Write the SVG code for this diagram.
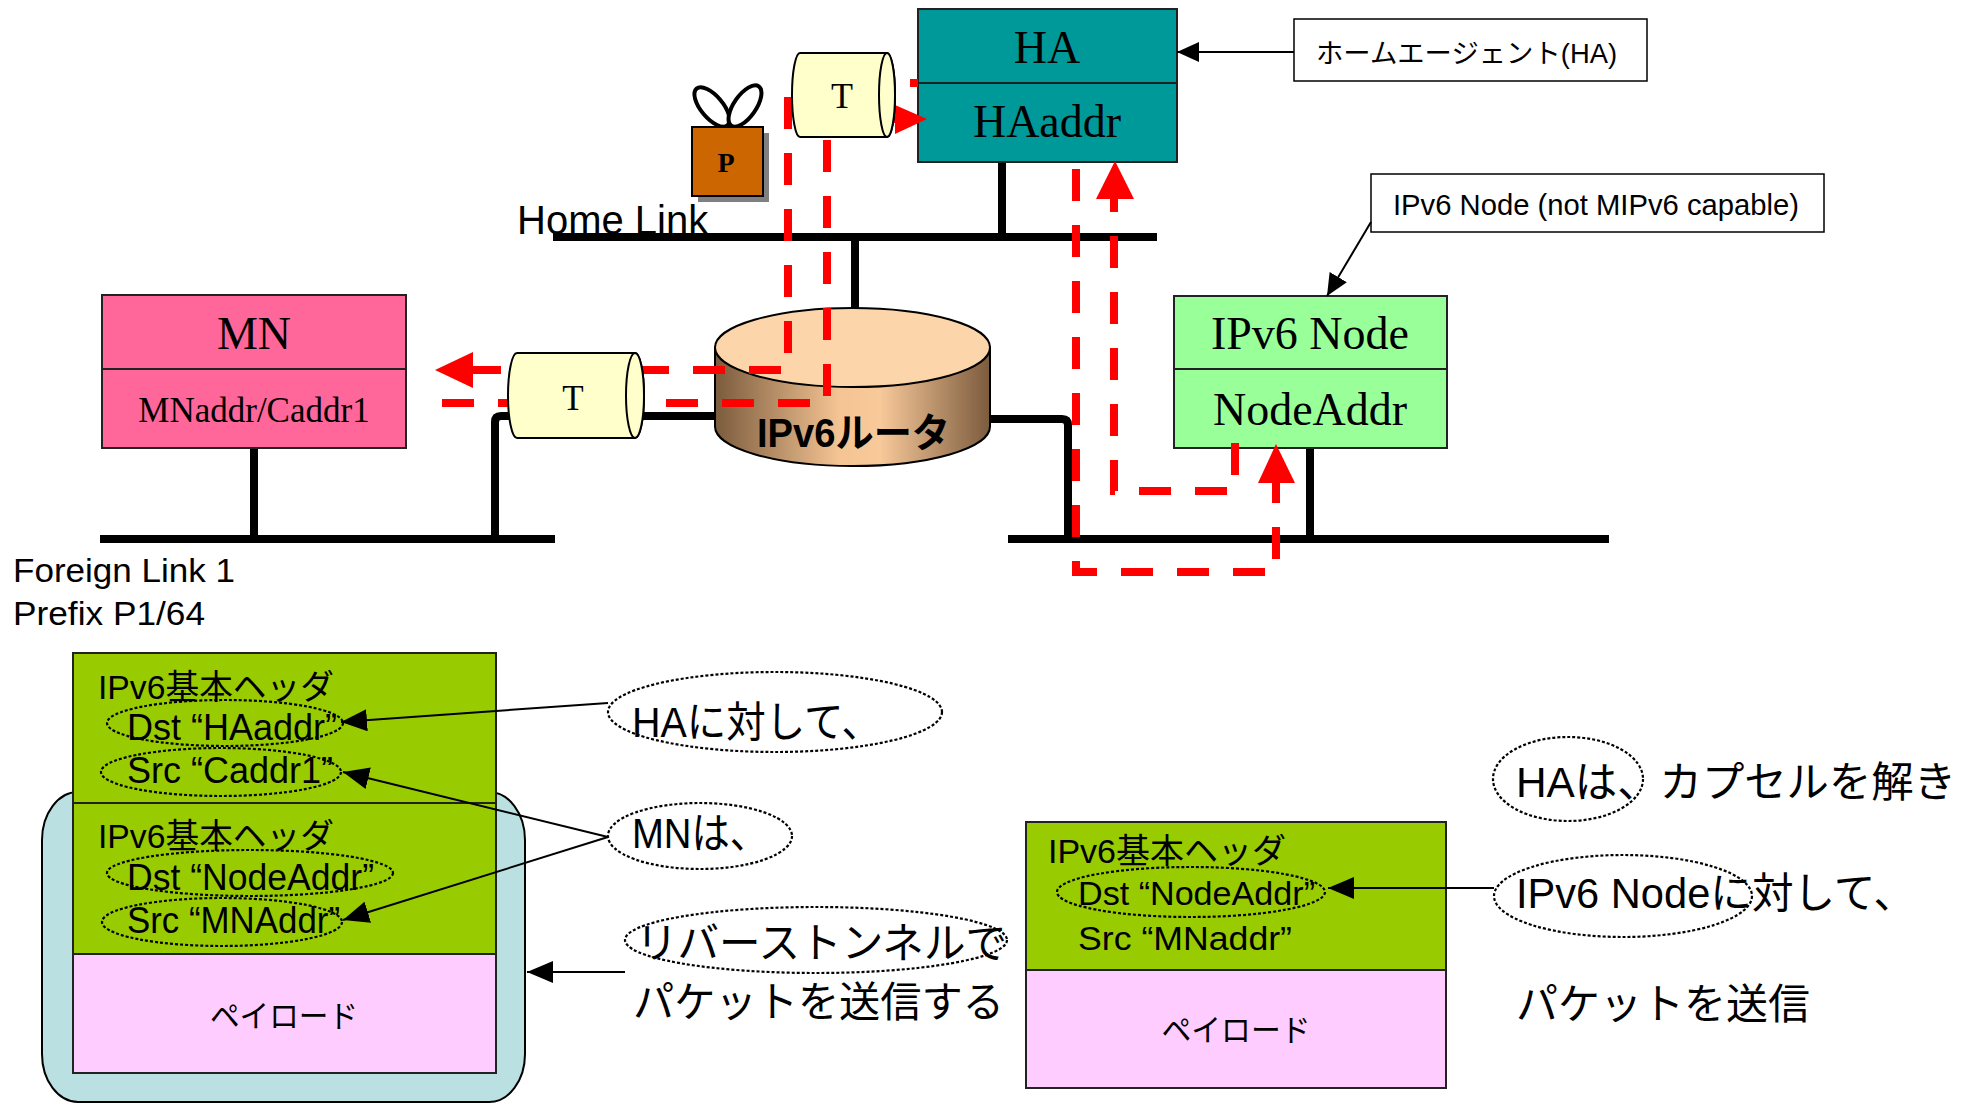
<svg xmlns="http://www.w3.org/2000/svg" width="1973" height="1103" viewBox="0 0 1973 1103">
  <defs>
    <style>
      .serif { font-family: "Liberation Serif", "Times New Roman", serif; fill: #000; }
      .sans { font-family: "Liberation Sans", Arial, "Noto Sans CJK JP", sans-serif; fill: #000; }
      .box { stroke: #222; stroke-width: 2; }
      .wire { fill: none; stroke: #000; stroke-width: 8; stroke-linejoin: round; }
      .flow { fill: none; stroke: #ff0000; stroke-width: 8; stroke-dasharray: 32 24; }
      .head { fill: #ff0000; }
      .thin { fill: none; stroke: #000; stroke-width: 2; }
      .dots { fill: none; stroke: #000; stroke-width: 2.2; stroke-dasharray: 3 2; }
      .tube { fill: #ffffcc; stroke: #000; stroke-width: 2; }
    </style>
    <linearGradient id="routerSide" x1="0" y1="0" x2="1" y2="0">
      <stop offset="0" stop-color="#7b5b3d"/>
      <stop offset="0.45" stop-color="#f4c493"/>
      <stop offset="0.6" stop-color="#f8c99a"/>
      <stop offset="1" stop-color="#7b5b3d"/>
    </linearGradient>
    <marker id="ah" viewBox="0 0 26 22" refX="26" refY="11" markerWidth="26" markerHeight="22" markerUnits="userSpaceOnUse" orient="auto">
      <path d="M0,0 L26,11 L0,22 Z" fill="#000"/>
    </marker>
    <marker id="ahs" viewBox="0 0 22 20" refX="22" refY="10" markerWidth="22" markerHeight="20" markerUnits="userSpaceOnUse" orient="auto">
      <path d="M0,0 L22,10 L0,20 Z" fill="#000"/>
    </marker>
  </defs>

  <rect x="0" y="0" width="1973" height="1103" fill="#fff"/>

  <!-- network links -->
  <g id="links">
    <line class="wire" x1="553" y1="237" x2="1157" y2="237" stroke-linecap="butt"/>
    <line class="wire" x1="100" y1="539" x2="555" y2="539" stroke-linecap="butt"/>
    <line class="wire" x1="1008" y1="539" x2="1609" y2="539" stroke-linecap="butt"/>
    <text class="sans" x="517" y="234" font-size="40">Home Link</text>
    <text class="sans" x="13" y="582" font-size="34" textLength="222" lengthAdjust="spacingAndGlyphs">Foreign Link 1</text>
    <text class="sans" x="13" y="625" font-size="34" textLength="192" lengthAdjust="spacingAndGlyphs">Prefix P1/64</text>
  </g>

  <!-- attachments to links -->
  <g id="drops">
    <path class="wire" d="M1002 162 V237"/>
    <path class="wire" d="M855 237 V330"/>
    <path class="wire" d="M254 448 V539"/>
    <path class="wire" d="M495 539 V422 Q495 416 501 416 H720"/>
    <path class="wire" d="M985 419 H1062 Q1068 419 1068 425 V539"/>
    <path class="wire" d="M1310 448 V539"/>
  </g>

  <!-- home agent -->
  <g id="ha">
    <rect class="box" x="918" y="9" width="259" height="153" fill="#009999"/>
    <line class="box" x1="918" y1="83" x2="1177" y2="83"/>
    <text class="serif" x="1047" y="63" font-size="46" text-anchor="middle">HA</text>
    <text class="serif" x="1047" y="137" font-size="46" text-anchor="middle">HAaddr</text>
  </g>

  <g id="ha-label">
    <rect x="1294" y="19" width="353" height="62" fill="#fff" stroke="#000" stroke-width="1.5"/>
    <text class="sans" x="1316" y="63" font-size="27" textLength="301" lengthAdjust="spacingAndGlyphs">ホームエージェント(HA)</text>
  </g>

  <!-- mobile node -->
  <g id="mn">
    <rect class="box" x="102" y="295" width="304" height="153" fill="#ff6699"/>
    <line class="box" x1="102" y1="369" x2="406" y2="369"/>
    <text class="serif" x="254" y="349" font-size="46" text-anchor="middle">MN</text>
    <text class="serif" x="254" y="422" font-size="35" text-anchor="middle">MNaddr/Caddr1</text>
  </g>

  <!-- correspondent node -->
  <g id="node">
    <rect class="box" x="1174" y="296" width="273" height="152" fill="#99ff99"/>
    <line class="box" x1="1174" y1="369" x2="1447" y2="369"/>
    <text class="serif" x="1310" y="349" font-size="46" text-anchor="middle">IPv6 Node</text>
    <text class="serif" x="1310" y="425" font-size="46" text-anchor="middle">NodeAddr</text>
  </g>

  <g id="node-label">
    <rect x="1371" y="174" width="453" height="58" fill="#fff" stroke="#000" stroke-width="1.5"/>
    <text class="sans" x="1393" y="215" font-size="29" textLength="406" lengthAdjust="spacingAndGlyphs">IPv6 Node (not MIPv6 capable)</text>
  </g>

  <!-- router -->
  <g id="router">
    <path d="M715 347.5 V426.5 A137.5 39.5 0 0 0 990 426.5 V347.5 Z" fill="url(#routerSide)" stroke="#000" stroke-width="2"/>
    <ellipse cx="852.5" cy="347.5" rx="137.5" ry="39.5" fill="#fdd5aa" stroke="#000" stroke-width="2"/>
    <text class="sans" x="757" y="447" font-size="40" font-weight="bold" textLength="193" lengthAdjust="spacingAndGlyphs">IPv6ルータ</text>
  </g>

  <!-- packet flows -->
  <g id="flows">
    <path class="flow" d="M918 83 H788 V370 H473" stroke-dashoffset="24"/>
    <polygon class="head" points="473,352 435,370 473,388"/>
    <path class="flow" d="M442 403 H827 V119 H895"/>
    <polygon class="head" points="895,105 927,119 895,134"/>
    <path class="flow" d="M1235 443 V491 H1114 V199"/>
    <polygon class="head" points="1096,199 1115,161 1134,199"/>
    <path class="flow" d="M1076 162 V572 H1276 V483" stroke-dashoffset="-7"/>
    <polygon class="head" points="1258,483 1276,444 1295,483"/>
  </g>

  <!-- tunnels -->
  <g id="tunnel-home">
    <path class="tube" d="M800 53 H887 A8 42 0 0 1 887 137 H800 A8 42 0 0 1 800 53 Z"/>
    <ellipse class="tube" cx="887" cy="95" rx="8" ry="42"/>
    <text class="serif" x="842" y="108" font-size="36" text-anchor="middle">T</text>
  </g>
  <g id="tunnel-foreign">
    <path class="tube" d="M517 353 H635 A9 42.5 0 0 1 635 438 H517 A9 42.5 0 0 1 517 353 Z"/>
    <ellipse class="tube" cx="635" cy="395.5" rx="9" ry="42.5"/>
    <text class="serif" x="573" y="410" font-size="35" text-anchor="middle">T</text>
  </g>

  <!-- packet icon -->
  <g id="packet-icon">
    <rect x="698" y="133" width="71" height="69" fill="#808080"/>
    <ellipse cx="712" cy="107" rx="24" ry="11" transform="rotate(50 712 107)" fill="#fff" stroke="#000" stroke-width="4"/>
    <ellipse cx="745" cy="106" rx="24" ry="11" transform="rotate(-55 745 106)" fill="#fff" stroke="#000" stroke-width="4"/>
    <rect x="692" y="127" width="71" height="69" fill="#cc6600" stroke="#000" stroke-width="2"/>
    <text class="serif" x="726" y="172" font-size="28" font-weight="bold" text-anchor="middle">P</text>
  </g>

  <!-- encapsulated packet -->
  <g id="encap-packet">
    <rect x="42" y="792" width="483" height="310" rx="36" ry="48" fill="#bbe0e2" stroke="#000" stroke-width="2"/>
    <rect class="box" x="73" y="653" width="423" height="150" fill="#99cc00"/>
    <rect class="box" x="73" y="803" width="423" height="151" fill="#99cc00"/>
    <rect class="box" x="73" y="954" width="423" height="119" fill="#ffccff" stroke-width="2.5"/>
    <text class="sans" x="98" y="699" font-size="34" textLength="236" lengthAdjust="spacingAndGlyphs">IPv6基本ヘッダ</text>
    <text class="sans" x="127" y="740" font-size="36" textLength="210" lengthAdjust="spacingAndGlyphs">Dst “HAaddr”</text>
    <text class="sans" x="127" y="783" font-size="36" textLength="206" lengthAdjust="spacingAndGlyphs">Src “Caddr1”</text>
    <text class="sans" x="98" y="848" font-size="34" textLength="236" lengthAdjust="spacingAndGlyphs">IPv6基本ヘッダ</text>
    <text class="sans" x="127" y="890" font-size="36" textLength="247" lengthAdjust="spacingAndGlyphs">Dst “NodeAddr”</text>
    <text class="sans" x="127" y="933" font-size="36" textLength="213" lengthAdjust="spacingAndGlyphs">Src “MNAddr”</text>
    <text class="sans" x="284" y="1027" font-size="31" text-anchor="middle" textLength="148" lengthAdjust="spacingAndGlyphs">ペイロード</text>
    <ellipse class="dots" cx="225" cy="723" rx="118" ry="23"/>
    <ellipse class="dots" cx="221" cy="772" rx="120" ry="24"/>
    <ellipse class="dots" cx="250" cy="873" rx="143" ry="23"/>
    <ellipse class="dots" cx="222" cy="922" rx="120" ry="24"/>
  </g>

  <!-- decapsulated packet -->
  <g id="plain-packet">
    <rect class="box" x="1026" y="822" width="420" height="148" fill="#99cc00"/>
    <rect class="box" x="1026" y="970" width="420" height="118" fill="#ffccff" stroke-width="2.5"/>
    <text class="sans" x="1048" y="863" font-size="34" textLength="238" lengthAdjust="spacingAndGlyphs">IPv6基本ヘッダ</text>
    <text class="sans" x="1078" y="905" font-size="34" textLength="237" lengthAdjust="spacingAndGlyphs">Dst “NodeAddr”</text>
    <text class="sans" x="1078" y="950" font-size="34" textLength="214" lengthAdjust="spacingAndGlyphs">Src “MNaddr”</text>
    <text class="sans" x="1236" y="1041" font-size="31" text-anchor="middle" textLength="149" lengthAdjust="spacingAndGlyphs">ペイロード</text>
    <ellipse class="dots" cx="1191" cy="892" rx="134" ry="25"/>
  </g>

  <!-- explanatory notes -->
  <g id="note-ha">
    <ellipse class="dots" cx="775" cy="712" rx="167" ry="40"/>
    <text class="sans" x="632" y="737" font-size="42" textLength="249" lengthAdjust="spacingAndGlyphs">HAに対して、</text>
  </g>
  <g id="note-mn">
    <ellipse class="dots" cx="700" cy="836" rx="92" ry="33"/>
    <text class="sans" x="632" y="848" font-size="42" textLength="136" lengthAdjust="spacingAndGlyphs">MNは、</text>
  </g>
  <g id="note-reverse">
    <ellipse class="dots" cx="816" cy="940" rx="191" ry="33"/>
    <text class="sans" x="636" y="958" font-size="42" textLength="371" lengthAdjust="spacingAndGlyphs">リバーストンネルで</text>
    <text class="sans" x="633" y="1017" font-size="42" textLength="371" lengthAdjust="spacingAndGlyphs">パケットを送信する</text>
  </g>
  <g id="note-decap">
    <ellipse class="dots" cx="1568" cy="779" rx="75" ry="42"/>
    <text class="sans" x="1516" y="797" font-size="42" textLength="440" lengthAdjust="spacingAndGlyphs">HAは、カプセルを解き</text>
  </g>
  <g id="note-node">
    <ellipse class="dots" cx="1623" cy="896" rx="129" ry="41"/>
    <text class="sans" x="1516" y="908" font-size="42" textLength="399" lengthAdjust="spacingAndGlyphs">IPv6 Nodeに対して、</text>
    <text class="sans" x="1516" y="1019" font-size="42" textLength="294" lengthAdjust="spacingAndGlyphs">パケットを送信</text>
  </g>

  <!-- connectors -->
  <g id="connectors">
    <line class="thin" x1="1294" y1="52" x2="1177" y2="52" marker-end="url(#ahs)"/>
    <line class="thin" x1="1371" y1="222" x2="1327" y2="296" marker-end="url(#ahs)" stroke-width="1.5"/>
    <line class="thin" x1="608" y1="703" x2="341" y2="722" marker-end="url(#ah)"/>
    <line class="thin" x1="608" y1="837" x2="343" y2="772" marker-end="url(#ah)"/>
    <line class="thin" x1="608" y1="837" x2="343" y2="920" marker-end="url(#ah)"/>
    <line class="thin" x1="625" y1="972" x2="527" y2="972" marker-end="url(#ah)"/>
    <line class="thin" x1="1494" y1="888" x2="1328" y2="888" marker-end="url(#ah)"/>
  </g>
</svg>
